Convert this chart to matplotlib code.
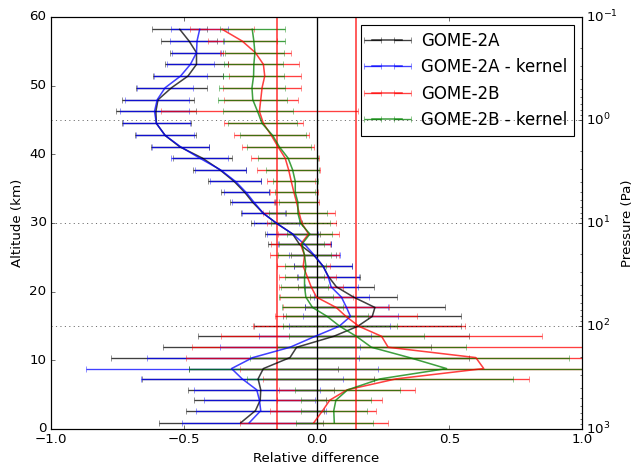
import numpy as np
import matplotlib
matplotlib.use('Agg')
import matplotlib.pyplot as plt

# altitude levels (km)
altitude = [0.92, 2.67, 4.2, 5.7, 7.3, 8.8, 10.4, 11.9, 13.5, 14.95,
            16.4, 17.7, 19.2, 20.7, 22.2, 23.7, 25.3, 26.9, 28.4, 29.95,
            31.4, 33.0, 34.45, 36.05, 37.75, 39.45, 41.1, 42.75, 44.5, 46.25,
            47.95, 49.7, 51.4, 53.1, 54.8, 56.5, 58.2]

# GOME-2A
g2a = [-0.285, -0.23, -0.212, -0.21, -0.22, -0.2, -0.1, -0.075, 0.065, 0.155,
       0.21, 0.22, 0.14, 0.075, 0.045, 0.025, -0.01, -0.064, -0.09, -0.15,
       -0.2, -0.24, -0.27, -0.31, -0.364, -0.43, -0.515, -0.57, -0.603, -0.605,
       -0.597, -0.546, -0.484, -0.452, -0.452, -0.48, -0.515]
g2a_err = [0.31, 0.26, 0.248, 0.275, 0.437, 0.28, 0.675, 0.505, 0.51, 0.39,
           0.335, 0.263, 0.165, 0.143, 0.12, 0.11, 0.085, 0.118, 0.105, 0.095,
           0.085, 0.085, 0.09, 0.1, 0.1, 0.11, 0.11, 0.115, 0.13, 0.15,
           0.136, 0.133, 0.13, 0.117, 0.1, 0.105, 0.104]

# GOME-2A - kernel
g2a_k = [-0.253, -0.21, -0.215, -0.225, -0.28, -0.32, -0.24, -0.1, -0.005, 0.085,
         0.128, 0.113, 0.094, 0.055, 0.044, 0.025, -0.008, -0.045, -0.09, -0.15,
         -0.2, -0.235, -0.265, -0.305, -0.362, -0.44, -0.512, -0.57, -0.603, -0.61,
         -0.6, -0.57, -0.512, -0.475, -0.452, -0.45, -0.44]
g2a_k_err = [0.254, 0.245, 0.21, 0.238, 0.38, 0.55, 0.4, 0.265, 0.21, 0.19,
             0.18, 0.155, 0.105, 0.1, 0.115, 0.11, 0.095, 0.1, 0.095, 0.085,
             0.08, 0.083, 0.085, 0.095, 0.097, 0.108, 0.107, 0.11, 0.125, 0.13,
             0.12, 0.105, 0.1, 0.088, 0.094, 0.1, 0.107]

# GOME-2B
g2b = [-0.01, 0.023, 0.05, 0.115, 0.3, 0.63, 0.6, 0.27, 0.245, 0.16,
       0.111, 0.074, 0.0, -0.02, -0.035, -0.05, -0.045, -0.06, -0.03, -0.055,
       -0.065, -0.075, -0.085, -0.095, -0.105, -0.118, -0.145, -0.17, -0.2, -0.215,
       -0.21, -0.205, -0.195, -0.2, -0.23, -0.28, -0.355]
g2b_err = [0.28, 0.2, 0.197, 0.256, 0.5, 0.92, 1.09, 0.74, 0.605, 0.4,
           0.268, 0.2, 0.138, 0.12, 0.107, 0.1, 0.13, 0.11, 0.115, 0.13,
           0.135, 0.085, 0.09, 0.09, 0.12, 0.127, 0.134, 0.14, 0.15, 0.37,
           0.14, 0.148, 0.136, 0.134, 0.133, 0.13, 0.12]

# GOME-2B - kernel
g2b_k = [0.067, 0.065, 0.073, 0.117, 0.24, 0.49, 0.35, 0.207, 0.15, 0.088,
         0.04, -0.015, -0.04, -0.045, -0.045, -0.04, -0.045, -0.055, -0.025, -0.06,
         -0.07, -0.07, -0.08, -0.08, -0.09, -0.107, -0.14, -0.165, -0.205, -0.222,
         -0.24, -0.243, -0.237, -0.236, -0.232, -0.236, -0.242]
g2b_k_err = [0.145, 0.125, 0.132, 0.197, 0.5, 0.97, 0.6, 0.357, 0.255, 0.214,
             0.155, 0.115, 0.103, 0.09, 0.075, 0.077, 0.1, 0.085, 0.085, 0.11,
             0.11, 0.07, 0.075, 0.085, 0.1, 0.113, 0.12, 0.124, 0.13, 0.132,
             0.13, 0.125, 0.115, 0.111, 0.111, 0.117, 0.122]

plt.style.use('classic')
plt.rcParams['figure.facecolor'] = 'white'
plt.rcParams['savefig.facecolor'] = 'white'

fig = plt.figure(figsize=(633 / 80.0, 466 / 80.0), dpi=80)
ax = fig.add_axes([51 / 633.0, 37 / 466.0, 531 / 633.0, 412 / 466.0])

style = dict(fmt='-', alpha=0.75, lw=1.4, elinewidth=1.2, capsize=3)
ax.errorbar(g2a, altitude, xerr=g2a_err, color='k', label='GOME-2A', **style)
ax.errorbar(g2a_k, altitude, xerr=g2a_k_err, color='b', label='GOME-2A - kernel', **style)
ax.errorbar(g2b, altitude, xerr=g2b_err, color='r', label='GOME-2B', **style)
ax.errorbar(g2b_k, altitude, xerr=g2b_k_err, color='g', label='GOME-2B - kernel', **style)

ax.axvline(0, color='k', lw=1.2)
ax.axvline(-0.15, color='r', lw=1.6, alpha=0.7)
ax.axvline(0.15, color='r', lw=1.6, alpha=0.7)

ax.set_xlim(-1, 1)
ax.set_ylim(0, 60)
ax.set_xticks([-1, -0.5, 0, 0.5, 1])
ax.set_xlabel('Relative difference')
ax.set_ylabel('Altitude (km)')
ax.tick_params(right=False)
ax.legend(loc='upper right', fontsize=15, handlelength=2.4)

ax2 = ax.twinx()
ax2.set_yscale('log')
ax2.set_ylim(1e3, 1e-1)
ax2.set_ylabel('Pressure (Pa)', labelpad=2)
ax2.yaxis.grid(True, which='major', linestyle=':', color='k')

fig.savefig('out.png', dpi=80)
